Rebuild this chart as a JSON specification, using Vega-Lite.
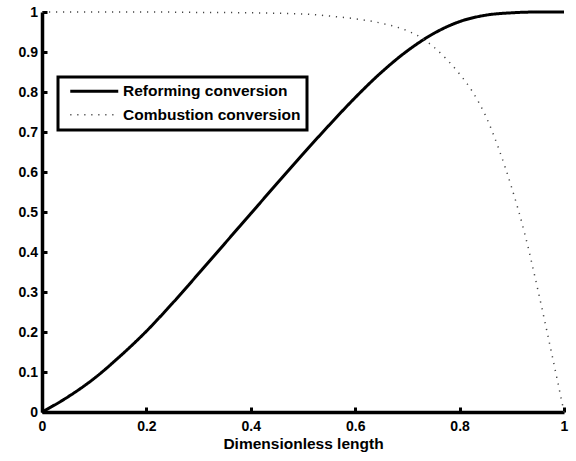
{
  "$schema": "https://vega.github.io/schema/vega-lite/v6.json",
  "autosize": "none",
  "width": 522,
  "height": 400,
  "padding": {"left": 42, "top": 12, "right": 12, "bottom": 49},
  "background": "white",
  "config": {
    "view": {"stroke": null},
    "font": "Liberation Sans"
  },
  "data": {
    "values": [
      {"x": 0, "y": 0, "s": "Reforming conversion"},
      {"x": 0.05, "y": 0.038, "s": "Reforming conversion"},
      {"x": 0.1, "y": 0.084, "s": "Reforming conversion"},
      {"x": 0.15, "y": 0.14, "s": "Reforming conversion"},
      {"x": 0.2, "y": 0.202, "s": "Reforming conversion"},
      {"x": 0.25, "y": 0.272, "s": "Reforming conversion"},
      {"x": 0.3, "y": 0.346, "s": "Reforming conversion"},
      {"x": 0.35, "y": 0.421, "s": "Reforming conversion"},
      {"x": 0.4, "y": 0.496, "s": "Reforming conversion"},
      {"x": 0.45, "y": 0.571, "s": "Reforming conversion"},
      {"x": 0.5, "y": 0.645, "s": "Reforming conversion"},
      {"x": 0.55, "y": 0.717, "s": "Reforming conversion"},
      {"x": 0.6, "y": 0.786, "s": "Reforming conversion"},
      {"x": 0.65, "y": 0.849, "s": "Reforming conversion"},
      {"x": 0.7, "y": 0.903, "s": "Reforming conversion"},
      {"x": 0.75, "y": 0.946, "s": "Reforming conversion"},
      {"x": 0.8, "y": 0.976, "s": "Reforming conversion"},
      {"x": 0.85, "y": 0.992, "s": "Reforming conversion"},
      {"x": 0.9, "y": 0.998, "s": "Reforming conversion"},
      {"x": 0.95, "y": 1.0, "s": "Reforming conversion"},
      {"x": 1.0, "y": 1.0, "s": "Reforming conversion"},
      {"x": 0, "y": 1.0, "s": "Combustion conversion"},
      {"x": 0.1, "y": 1.0, "s": "Combustion conversion"},
      {"x": 0.2, "y": 1.0, "s": "Combustion conversion"},
      {"x": 0.3, "y": 0.999, "s": "Combustion conversion"},
      {"x": 0.4, "y": 0.998, "s": "Combustion conversion"},
      {"x": 0.5, "y": 0.995, "s": "Combustion conversion"},
      {"x": 0.55, "y": 0.99, "s": "Combustion conversion"},
      {"x": 0.6, "y": 0.983, "s": "Combustion conversion"},
      {"x": 0.65, "y": 0.972, "s": "Combustion conversion"},
      {"x": 0.7, "y": 0.953, "s": "Combustion conversion"},
      {"x": 0.725, "y": 0.937, "s": "Combustion conversion"},
      {"x": 0.75, "y": 0.913, "s": "Combustion conversion"},
      {"x": 0.775, "y": 0.882, "s": "Combustion conversion"},
      {"x": 0.8, "y": 0.845, "s": "Combustion conversion"},
      {"x": 0.825, "y": 0.8, "s": "Combustion conversion"},
      {"x": 0.85, "y": 0.74, "s": "Combustion conversion"},
      {"x": 0.875, "y": 0.658, "s": "Combustion conversion"},
      {"x": 0.9, "y": 0.56, "s": "Combustion conversion"},
      {"x": 0.925, "y": 0.445, "s": "Combustion conversion"},
      {"x": 0.95, "y": 0.305, "s": "Combustion conversion"},
      {"x": 0.975, "y": 0.155, "s": "Combustion conversion"},
      {"x": 1.0, "y": 0.0, "s": "Combustion conversion"}
    ]
  },
  "mark": {"type": "line", "interpolate": "monotone", "clip": false},
  "encoding": {
    "x": {
      "field": "x", "type": "quantitative",
      "scale": {"domain": [0, 1], "nice": false, "zero": false},
      "axis": {
        "title": "Dimensionless length",
        "titleFont": "Liberation Sans", "titleFontSize": 15.5, "titleFontWeight": "bold", "titleColor": "black",
        "titlePadding": 3,
        "values": [0, 0.2, 0.4, 0.6, 0.8, 1],
        "format": ".1~f",
        "labelFont": "Liberation Sans", "labelFontSize": 14, "labelFontWeight": "bold", "labelColor": "black",
        "labelPadding": 12, "labelFlush": false, "labelOverlap": false,
        "grid": false,
        "domainColor": "black", "domainWidth": 3.5,
        "tickColor": "black", "tickWidth": 3, "tickSize": -5
      }
    },
    "y": {
      "field": "y", "type": "quantitative",
      "scale": {"domain": [0, 1], "nice": false, "zero": false},
      "axis": {
        "title": null,
        "values": [0, 0.1, 0.2, 0.3, 0.4, 0.5, 0.6, 0.7, 0.8, 0.9, 1],
        "format": ".1~f",
        "labelFont": "Liberation Sans", "labelFontSize": 14, "labelFontWeight": "bold", "labelColor": "black",
        "labelPadding": 9.5, "labelFlush": false, "labelOverlap": false,
        "grid": false,
        "domainColor": "black", "domainWidth": 3.5,
        "tickColor": "black", "tickWidth": 3, "tickSize": -5
      }
    },
    "color": {
      "field": "s", "type": "nominal",
      "scale": {"domain": ["Reforming conversion", "Combustion conversion"], "range": ["black", "#444444"]},
      "legend": {
        "title": null,
        "orient": "none", "legendX": 16, "legendY": 65,
        "strokeColor": "black", "fillColor": "white",
        "padding": 6.5,
        "symbolType": "M-4,0H4", "symbolSize": 144, "symbolOffset": 22,
        "labelFont": "Liberation Sans", "labelFontSize": 15.5, "labelFontWeight": "bold", "labelColor": "black",
        "labelOffset": 21, "labelLimit": 400, "rowPadding": 6.5,
        "encode": {"legend": {"update": {"strokeWidth": {"value": 3}}}}
      }
    },
    "strokeDash": {
      "field": "s", "type": "nominal",
      "scale": {"domain": ["Reforming conversion", "Combustion conversion"], "range": [[1, 0], [1.2, 5.8]]}
    },
    "strokeWidth": {
      "field": "s", "type": "nominal",
      "scale": {"domain": ["Reforming conversion", "Combustion conversion"], "range": [3, 1.5]}
    }
  }
}
